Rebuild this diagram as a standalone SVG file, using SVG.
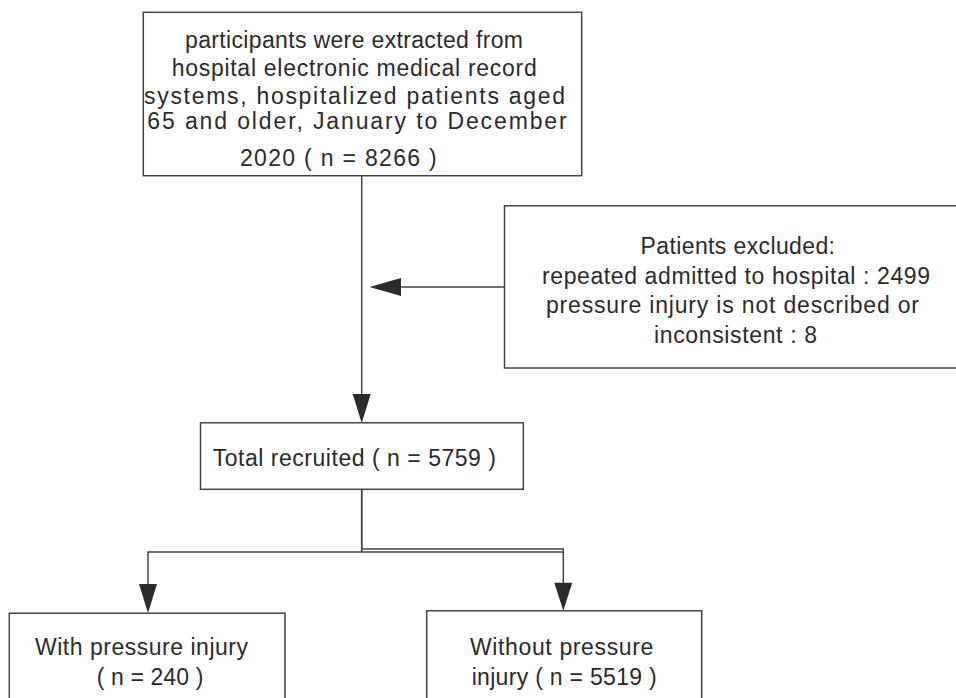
<svg xmlns="http://www.w3.org/2000/svg" width="956" height="698" viewBox="0 0 956 698">
<style>
.box{fill:#fff;stroke:#444;stroke-width:1.5}
.t{font-family:"Liberation Sans",Arial,sans-serif;font-size:23px;fill:#2b2b2b}
.ln{fill:none;stroke:#444;stroke-width:1.5}
.ah{fill:#2b2b2b;stroke:none}
</style>
<rect width="956" height="698" fill="#fff"/>
<g id="connectors">
<path class="ln" d="M361.7 176 V396"/>
<polygon class="ah" points="361.7,423 352.7,394 370.7,394"/>
<path class="ln" d="M504 287 H399"/>
<polygon class="ah" points="369.5,287 401,278 401,296"/>
<path class="ln" d="M361.7 489.5 V552 H148 V586"/>
<path class="ln" d="M361.7 489.5 V549 H563.3 V584"/>
<path class="ln" d="M361.7 552 H563.3"/>
<polygon class="ah" points="148,613 139,584 157,584"/>
<polygon class="ah" points="563.3,610.7 554.3,582.7 572.3,582.7"/>
</g>
<g id="n1">
<rect class="box" x="143.3" y="12.3" width="438.4" height="163.4"/>
<text class="t" x="185" y="47.7" textLength="338" lengthAdjust="spacing">participants were extracted from</text>
<text class="t" x="171.7" y="76" textLength="365" lengthAdjust="spacing">hospital electronic medical record</text>
<text class="t" x="144" y="104.3" textLength="421" lengthAdjust="spacing">systems, hospitalized patients aged</text>
<text class="t" x="147.3" y="129.3" textLength="419.4" lengthAdjust="spacing">65 and older, January to December</text>
<text class="t" x="240" y="165.7" textLength="196.7" lengthAdjust="spacing">2020 ( n = 8266 )</text>
</g>
<g id="n2">
<rect class="box" x="504.5" y="205.8" width="460" height="162.2"/>
<text class="t" x="640.6" y="254" textLength="194.4" lengthAdjust="spacing">Patients excluded:</text>
<text class="t" x="542" y="284" textLength="388" lengthAdjust="spacing">repeated admitted to hospital : 2499</text>
<text class="t" x="546" y="313" textLength="373" lengthAdjust="spacing">pressure injury is not described or</text>
<text class="t" x="654" y="343" textLength="163" lengthAdjust="spacing">inconsistent : 8</text>
</g>
<g id="n3">
<rect class="box" x="200.5" y="422.8" width="322.8" height="66.5"/>
<text class="t" x="212.7" y="466" textLength="283.3" lengthAdjust="spacing">Total recruited ( n = 5759 )</text>
</g>
<g id="n4">
<rect class="box" x="9.3" y="613.2" width="275.7" height="100"/>
<text class="t" x="35" y="655" textLength="213" lengthAdjust="spacing">With pressure injury</text>
<text class="t" x="96.7" y="685" textLength="106.6" lengthAdjust="spacing">( n = 240 )</text>
</g>
<g id="n5">
<rect class="box" x="426.7" y="610.8" width="275" height="100"/>
<text class="t" x="470" y="655" textLength="183.3" lengthAdjust="spacing">Without pressure</text>
<text class="t" x="471.7" y="685" textLength="185" lengthAdjust="spacing">injury ( n = 5519 )</text>
</g>
</svg>
